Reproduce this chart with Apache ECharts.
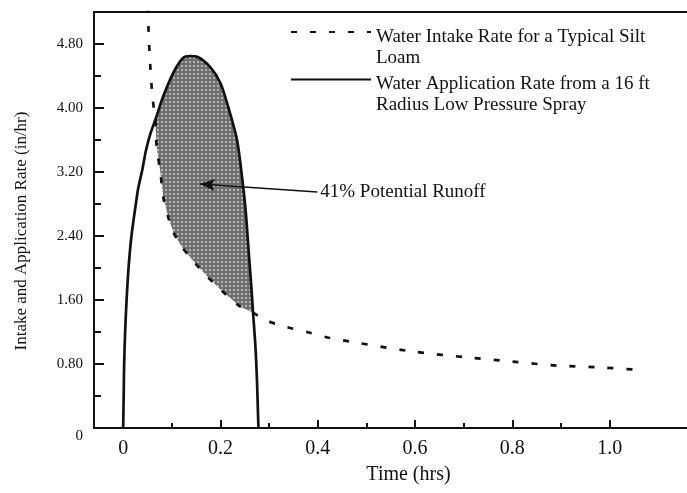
<!DOCTYPE html>
<html>
<head>
<meta charset="utf-8">
<script src="https://cdn.jsdelivr.net/npm/echarts@6/dist/echarts.min.js"></script>
<style>html,body{margin:0;padding:0;background:#fff;}#c{width:687px;height:493px;}</style>
</head>
<body>
<div id="c"></div>
<script>
// ---- data ----
const appTime = [0, 0.001, 0.002, 0.004, 0.007, 0.011, 0.017, 0.026, 0.031, 0.039, 0.047, 0.056, 0.066, 0.082, 0.103, 0.123, 0.138, 0.152, 0.179, 0.2, 0.216, 0.234, 0.245, 0.252, 0.258, 0.263, 0.267, 0.272, 0.275, 0.277, 0.278];
const appRate = [0, 0.4, 0.8, 1.2, 1.6, 2.0, 2.4, 2.8, 3.0, 3.22, 3.475, 3.68, 3.85, 4.14, 4.44, 4.625, 4.65, 4.64, 4.51, 4.31, 4.01, 3.6, 3.1, 2.7, 2.2, 1.8, 1.44, 1.0, 0.6, 0.2, 0];
const intakeTime = [0.05, 0.052, 0.055, 0.06, 0.066, 0.069, 0.076, 0.083, 0.092, 0.103, 0.12, 0.148, 0.175, 0.2, 0.24, 0.267, 0.296, 0.337, 0.384, 0.425, 0.467, 0.59, 0.72, 0.8, 0.892, 0.974, 1.063];
const intakeRate = [5.5, 5.0, 4.6, 4.15, 3.85, 3.5, 3.22, 2.87, 2.65, 2.45, 2.27, 2.06, 1.88, 1.73, 1.52, 1.44, 1.34, 1.26, 1.19, 1.125, 1.08, 0.96, 0.875, 0.83, 0.78, 0.76, 0.725];
const runoffStart = 0.066;
const runoffEnd = 0.267;
const arrowTip = [0.158, 3.05];
const arrowTail = [0.399, 2.95];
const xMajor = [0, 0.2, 0.4, 0.6, 0.8, 1.0];
const xMinor = [0.1, 0.3, 0.5, 0.7, 0.9];
const xLabels = ['0', '0.2', '0.4', '0.6', '0.8', '1.0'];
const yMajor = [0, 0.8, 1.6, 2.4, 3.2, 4.0, 4.8];
const yMinor = [0.4, 1.2, 2.0, 2.8, 3.6, 4.4];
const yLabels = ['0', '0.80', '1.60', '2.40', '3.20', '4.00', '4.80'];
const seriesNames = ['Water Intake Rate for a Typical Silt\nLoam', 'Water Application Rate from a 16 ft\nRadius Low Pressure Spray'];
const runoffLabel = '41% Potential Runoff';

// ---- build ----
const appData = appTime.map((t, i) => [t, appRate[i]]);
const intakeData = intakeTime.map((t, i) => [t, intakeRate[i]]);
const runoffPoly = appData.filter(p => p[0] >= runoffStart && p[0] <= runoffEnd)
  .concat(intakeData.filter(p => p[0] >= runoffStart && p[0] <= runoffEnd).reverse());

const FONT = '"Liberation Serif", "Times New Roman", serif';
const X_MIN = -0.06, X_MAX = 1.159, Y_MIN = 0, Y_MAX = 5.2;

// stipple pattern for the shaded region
const pc = document.createElement('canvas');
pc.width = 4; pc.height = 4;
const pctx = pc.getContext('2d');
pctx.fillStyle = '#6e6e6e'; pctx.fillRect(0, 0, 4, 4);
pctx.fillStyle = '#b4b4b4'; pctx.fillRect(1, 1, 2, 2);

const chart = echarts.init(document.getElementById('c'));
const gridPos = { left: 94, right: 0, top: 12, bottom: 65 };
chart.setOption({
  animation: false,
  textStyle: { fontFamily: FONT, color: '#111' },
  grid: [Object.assign({}, gridPos), Object.assign({}, gridPos)],
  legend: {
    orient: 'vertical', left: 290, top: 9, padding: 0,
    itemWidth: 80, itemHeight: 12, itemGap: -11,
    itemStyle: { opacity: 0 },
    data: seriesNames,
    formatter: name => '{s| }\n' + name.split('\n').map(l => '{a|' + l + '}').join('\n'),
    textStyle: { fontFamily: FONT, fontSize: 19, color: '#111',
      rich: {
        s: { fontSize: 4, lineHeight: 31 },
        a: { fontFamily: FONT, fontSize: 19, color: '#111', lineHeight: 21 }
      } }
  },
  xAxis: [
    { type: 'value', gridIndex: 0, min: X_MIN, max: X_MAX, position: 'bottom',
      name: 'Time (hrs)', nameLocation: 'middle', nameGap: 37,
      nameTextStyle: { fontFamily: FONT, fontSize: 20, color: '#111', padding: [0, 0, 0, 36] },
      axisLine: { show: true, onZero: false, lineStyle: { color: '#111', width: 2 } },
      axisTick: { show: true, inside: true, length: 8, customValues: xMajor, lineStyle: { color: '#111', width: 2 } },
      axisLabel: { show: true, margin: 11, fontSize: 20, fontFamily: FONT, color: '#111', customValues: xMajor,
        formatter: v => xLabels[xMajor.findIndex(m => Math.abs(m - v) < 1e-9)] },
      splitLine: { show: false } },
    { type: 'value', gridIndex: 0, min: X_MIN, max: X_MAX, position: 'top',
      axisLine: { show: true, onZero: false, lineStyle: { color: '#111', width: 2 } },
      axisTick: { show: false }, axisLabel: { show: false }, splitLine: { show: false } },
    { type: 'value', gridIndex: 1, min: X_MIN, max: X_MAX, position: 'bottom',
      axisLine: { show: false, onZero: false },
      axisTick: { show: true, inside: true, length: 5, customValues: xMinor, lineStyle: { color: '#111', width: 2 } },
      axisLabel: { show: false }, splitLine: { show: false } }
  ],
  yAxis: [
    { type: 'value', gridIndex: 0, min: Y_MIN, max: Y_MAX, position: 'left',
      name: 'Intake and Application Rate (in/hr)', nameLocation: 'middle', nameGap: 64,
      nameTextStyle: { fontFamily: FONT, fontSize: 17, color: '#111', padding: [0, 22, 0, 0] },
      axisLine: { show: true, onZero: false, lineStyle: { color: '#111', width: 2 } },
      axisTick: { show: true, inside: true, length: 10, customValues: yMajor, lineStyle: { color: '#111', width: 2 } },
      axisLabel: { show: true, margin: 11, fontSize: 15, fontFamily: FONT, color: '#111', customValues: yMajor,
        formatter: v => { const l = yLabels[yMajor.findIndex(m => Math.abs(m - v) < 1e-9)]; return v === 0 ? '{z|' + l + '}' : l; },
        rich: { z: { fontSize: 15, fontFamily: FONT, color: '#111', padding: [16, 0, 0, 0] } } },
      splitLine: { show: false } },
    { type: 'value', gridIndex: 1, min: Y_MIN, max: Y_MAX, position: 'left',
      axisLine: { show: false, onZero: false },
      axisTick: { show: true, inside: true, length: 7, customValues: yMinor, lineStyle: { color: '#111', width: 2 } },
      axisLabel: { show: false }, splitLine: { show: false } }
  ],
  series: [
    { type: 'custom', name: 'runoff', xAxisIndex: 0, yAxisIndex: 0, silent: true, z: 1,
      data: [0],
      renderItem: (params, api) => ({
        type: 'polygon',
        shape: { points: runoffPoly.map(p => api.coord(p)) },
        style: { fill: { image: pc, repeat: 'repeat' }, stroke: null }
      }) },
    { type: 'line', name: seriesNames[0], xAxisIndex: 0, yAxisIndex: 0, data: intakeData,
      showSymbol: false, symbol: 'none', smooth: 0.3, clip: true, z: 3,
      itemStyle: { color: '#111' },
      lineStyle: { color: '#111', width: 2.7, type: [6, 13] },
      markLine: {
        silent: true, animation: false, symbol: ['arrow', 'none'], symbolSize: [9, 15],
        lineStyle: { color: '#111', width: 1.5, type: 'solid' },
        label: { show: true, position: 'end', distance: 3, formatter: runoffLabel,
          fontFamily: FONT, fontSize: 19, color: '#111' },
        data: [[{ coord: arrowTip }, { coord: arrowTail }]]
      } },
    { type: 'line', name: seriesNames[1], xAxisIndex: 0, yAxisIndex: 0, data: appData,
      showSymbol: false, symbol: 'none', smooth: 0.3, clip: true, z: 4,
      itemStyle: { color: '#111' },
      lineStyle: { color: '#111', width: 2.7, type: 'solid' } }
  ]
});
</script>
</body>
</html>
